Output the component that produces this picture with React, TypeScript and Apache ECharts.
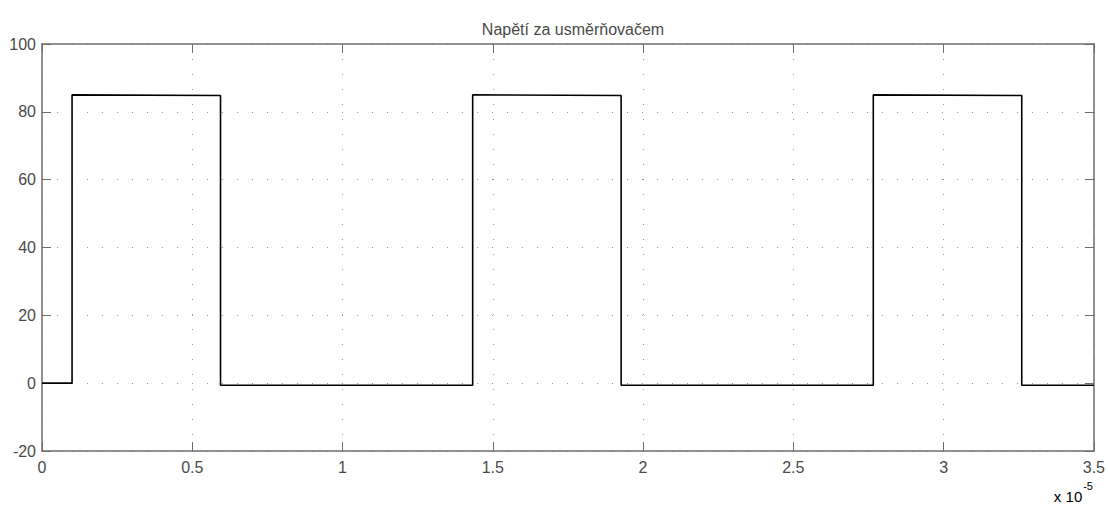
import React, { useEffect, useRef } from "react";
import * as echarts from "echarts";

// Time axis in units of 1e-5 s
const xTicks = [0, 0.5, 1, 1.5, 2, 2.5, 3, 3.5];
const yTicks = [-20, 0, 20, 40, 60, 80, 100];
const riseTimes = [0.1, 1.433, 2.766];
const fallTimes = [0.594, 1.927, 3.26];
const highStart = [85, 85, 85];
const highEnd = [84.8, 84.8, 84.8];
const lowLevel = -0.6;
const initialLevel = 0;
const endTime = 3.5;
const title = "Napětí za usměrňovačem";

function buildData(): [number, number][] {
  const pts: [number, number][] = [[0, initialLevel], [riseTimes[0], initialLevel]];
  for (let i = 0; i < riseTimes.length; i++) {
    if (i > 0) pts.push([riseTimes[i], lowLevel]);
    pts.push([riseTimes[i], highStart[i]]);
    pts.push([fallTimes[i], highEnd[i]]);
    pts.push([fallTimes[i], lowLevel]);
  }
  pts.push([endTime, lowLevel]);
  return pts;
}

export default function App() {
  const ref = useRef<HTMLDivElement>(null);
  useEffect(() => {
    const chart = echarts.init(ref.current!, null, { renderer: "svg" });
    const font = "Liberation Sans, Arial, sans-serif";
    const textColor = "#4a4a4a";
    const axisColor = "#6e6e6e";
    const grid = { color: "#9a9a9a", width: 1, type: [1, 14] as any };
    const axisLine = { show: true, onZero: false, lineStyle: { color: axisColor, width: 1.5 } };
    const axisTick = { show: true, inside: true, length: 9, lineStyle: { color: axisColor } };
    chart.setOption({
      animation: false,
      backgroundColor: "#ffffff",
      title: {
        text: title,
        left: 568,
        textAlign: "center",
        top: 16,
        textStyle: { fontFamily: font, fontSize: 16, fontWeight: "normal", color: textColor },
      },
      grid: { left: 42, right: 14, top: 44, bottom: 56, containLabel: false },
      xAxis: [
        {
          type: "value",
          min: xTicks[0],
          max: xTicks[xTicks.length - 1],
          interval: 0.5,
          position: "bottom",
          axisLine,
          axisTick,
          axisLabel: { color: textColor, fontFamily: font, fontSize: 16, margin: 8 },
          splitLine: { show: true, lineStyle: grid },
        },
        {
          type: "value",
          min: xTicks[0],
          max: xTicks[xTicks.length - 1],
          interval: 0.5,
          position: "top",
          axisLine,
          axisTick,
          axisLabel: { show: false },
          splitLine: { show: false },
        },
      ],
      yAxis: [
        {
          type: "value",
          min: yTicks[0],
          max: yTicks[yTicks.length - 1],
          interval: 20,
          position: "left",
          axisLine,
          axisTick,
          axisLabel: { color: textColor, fontFamily: font, fontSize: 16, margin: 6 },
          splitLine: { show: true, lineStyle: grid },
        },
        {
          type: "value",
          min: yTicks[0],
          max: yTicks[yTicks.length - 1],
          interval: 20,
          position: "right",
          axisLine,
          axisTick,
          axisLabel: { show: false },
          splitLine: { show: false },
        },
      ],
      graphic: [
        {
          type: "text",
          right: 15,
          top: 480,
          style: {
            text: "{b|x 10}{s|-5}",
            rich: {
              b: { fontFamily: font, fontSize: 15, color: textColor, verticalAlign: "bottom", lineHeight: 24 },
              s: { fontFamily: font, fontSize: 11, color: textColor, verticalAlign: "top", lineHeight: 24, padding: [0, 0, 12, 1] },
            },
          },
        },
      ],
      series: [
        {
          type: "line",
          xAxisIndex: 0,
          yAxisIndex: 0,
          data: buildData(),
          showSymbol: false,
          symbol: "none",
          lineStyle: { color: "#000000", width: 1.6 },
          z: 5,
        },
      ],
    });
    return () => chart.dispose();
  }, []);
  return (
    <div
      ref={ref}
      style={{ position: "fixed", left: 0, top: 0, width: 1108, height: 507, background: "#fff" }}
    />
  );
}
